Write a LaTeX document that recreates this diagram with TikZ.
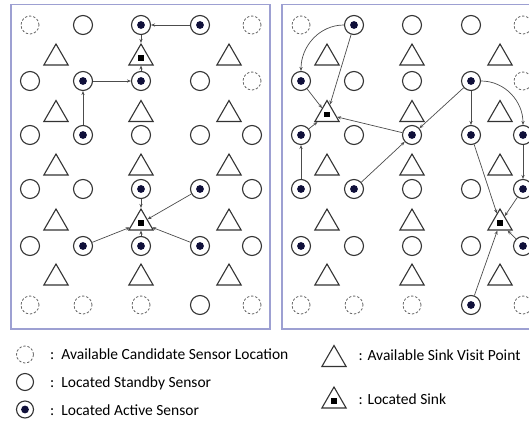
\documentclass[tikz,border=0pt]{standalone}
\usepackage{fontspec}
\setmainfont{Carlito}
\usetikzlibrary{shapes.geometric, arrows.meta}
\definecolor{framecol}{HTML}{9DA0D2}
\definecolor{dotcol}{HTML}{10103A}
\tikzset{
    cand/.style={circle, draw=black!60, dash pattern=on 2.4pt off 1.8pt, line width=0.8pt, minimum size=18pt, inner sep=0pt},
    standby/.style={circle, draw=black!80, line width=1.1pt, minimum size=19pt, inner sep=0pt},
    active/.style={standby, path picture={\fill[dotcol] (path picture bounding box.center) circle (3.9pt);}},
    visit/.style={regular polygon, regular polygon sides=3, draw=black!80, line width=1.1pt, minimum size=28pt, inner sep=0pt},
    sink/.style={visit, label={[fill=black, inner sep=0pt, minimum size=5.5pt]center:{}}},
    link/.style={-{Stealth[length=4pt, width=3.2pt]}, draw=black!70, line width=0.7pt},
    legtext/.style={anchor=base west, inner sep=0pt, font=\fontsize{15.5}{18}\selectfont}
}
\def\colx{{30,83,141,200,252}}
\def\rowy{{25,81,135,189,246,305}}
\def\trix{{56,141,229}}
\def\triy{{58,114.5,168,223,278}}

\begin{document}
\begin{tikzpicture}[x=1pt, y=-1pt]
    \useasboundingbox (0,0) rectangle (529,428);
    \draw[framecol, line width=1.3pt] (11,4.5) rectangle (270,329);
    \draw[framecol, line width=1.3pt] (282,4.5) rectangle (541,329);
    \foreach \r/\types in {1/{cand,standby,active,active,cand}, 2/{standby,active,active,standby,cand},
        3/{standby,active,standby,standby,standby}, 4/{standby,standby,active,active,standby},
        5/{standby,active,active,active,standby}, 6/{cand,cand,cand,standby,cand}}
        \foreach \t [count=\c] in \types {
            \pgfmathsetmacro\px{\colx[\c-1]}
            \pgfmathsetmacro\py{\rowy[\r-1]}
            \node[\t] (L\r\c) at (\px,\py) {};
        }
    \foreach \r/\types in {1/{visit,sink,visit}, 2/{visit,visit,visit}, 3/{visit,visit,visit},
        4/{visit,sink,visit}, 5/{visit,visit,visit}}
        \foreach \t [count=\c] in \types {
            \pgfmathsetmacro\px{\trix[\c-1]}
            \pgfmathsetmacro\py{\triy[\r-1]}
            \node[\t] (LT\r\c) at (\px,\py) {};
        }
    \begin{scope}[xshift=271pt]
    \foreach \r/\types in {1/{cand,active,standby,standby,cand}, 2/{active,standby,standby,active,cand},
        3/{active,standby,active,active,active}, 4/{active,active,standby,standby,active},
        5/{active,standby,standby,standby,active}, 6/{cand,cand,cand,active,cand}}
        \foreach \t [count=\c] in \types {
            \pgfmathsetmacro\px{\colx[\c-1]}
            \pgfmathsetmacro\py{\rowy[\r-1]}
            \node[\t] (R\r\c) at (\px,\py) {};
        }
    \foreach \r/\types in {1/{visit,visit,visit}, 2/{sink,visit,visit}, 3/{visit,visit,visit},
        4/{visit,visit,sink}, 5/{visit,visit,visit}}
        \foreach \t [count=\c] in \types {
            \pgfmathsetmacro\px{\trix[\c-1]}
            \pgfmathsetmacro\py{\triy[\r-1]}
            \node[\t] (RT\r\c) at (\px,\py) {};
        }
    \end{scope}

    \draw[link] (L14) -- (L13);
    \draw[link] (L13) -- (LT12);
    \draw[link] (L23) -- (LT12);
    \draw[link] (L22) -- (L23);
    \draw[link] (L32) -- (L22);
    \draw[link] (L43) -- (LT42);
    \draw[link] (L44) -- (LT42);
    \draw[link] (L52) -- (LT42);
    \draw[link] (L53) -- (LT42);
    \draw[link] (L54) -- (LT42);

    \draw[link] (R12) to[out=180, in=90] (R21);
    \draw[link] (R12) -- (RT21);
    \draw[link] (R21) -- (RT21);
    \draw[link] (R31) -- (RT21);
    \draw[link] (R33) -- (RT21);
    \draw[link] (R41) -- (R31);
    \draw[link] (R42) -- (R33);
    \draw[link] (R24) -- (R33);
    \draw[link] (R24) -- (R34);
    \draw[link] (R24) to[out=0, in=90] (R35);
    \draw[link] (R35) -- (R45);
    \draw[link] (R34) -- (RT43);
    \draw[link] (R45) -- (RT43);
    \draw[link] (R55) -- (RT43);
    \draw[link] (R64) -- (RT43);

    \node[cand, minimum size=17pt] (key1) at (25,354.5) {};
    \node[standby, minimum size=17pt] (key2) at (25,382) {};
    \node[active, minimum size=17pt] (key3) at (25,409.5) {};
    \node[visit] (key4) at (334,359.5) {};
    \node[sink] (key5) at (334,401) {};
    \node[legtext] at (50,359) {:\ \ Available Candidate Sensor Location};
    \node[legtext] at (50,387) {:\ \ Located Standby Sensor};
    \node[legtext] at (50,415) {:\ \ Located Active Sensor};
    \node[legtext] at (358.5,360) {: Available Sink Visit Point};
    \node[legtext] at (358.5,404) {: Located Sink};
\end{tikzpicture}
\end{document}
